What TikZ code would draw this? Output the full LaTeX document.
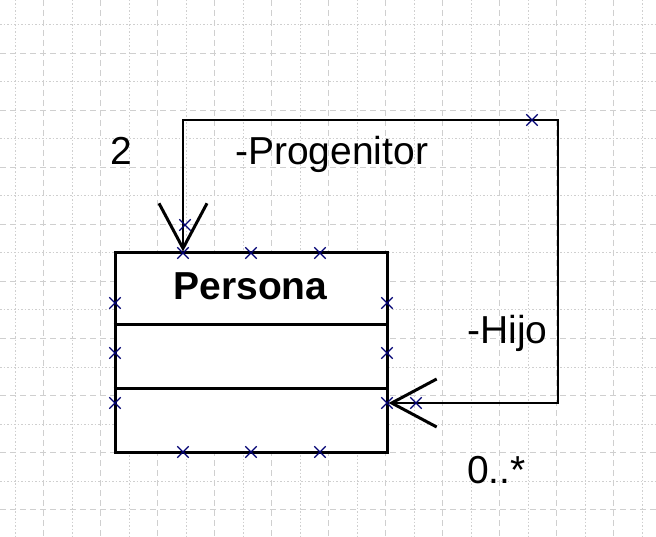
\documentclass[tikz,border=0pt]{standalone}
\usepackage{fontspec}
\setmainfont{Liberation Sans}
\usetikzlibrary{arrows.meta,shapes.misc}
\tikzset{
  clase/.style={draw,line width=3pt,fill=white,minimum width=272pt,minimum height=199pt,inner sep=0pt},
  punta/.tip={Straight Barb[length=45pt,width=48pt,line width=3pt]},
  asoc/.style={line width=2pt,punta-punta},
  marca/.style={cross out,draw=blue!45!black,line width=1.3pt,minimum size=10pt,inner sep=0pt},
  rol/.style={font=\fontsize{39}{39}\selectfont,inner sep=0pt},
  rejilla/.style={gray!38,line width=1pt}
}
\begin{document}
\begin{tikzpicture}[x=1pt,y=-1pt]
\useasboundingbox[fill=white] (0,0) rectangle (656,537);
% rejilla
\foreach \k in {0,2,...,22} \draw[rejilla,dash pattern=on 1.5pt off 2pt] (15+28.5*\k,0) -- (15+28.5*\k,537);
\foreach \k in {1,3,...,21} \draw[rejilla,dash pattern=on 6pt off 4pt] (15+28.5*\k,0) -- (15+28.5*\k,537);
\foreach \k in {0,2,...,18} \draw[rejilla,dash pattern=on 1.5pt off 2pt] (0,25+28.5*\k) -- (656,25+28.5*\k);
\foreach \k in {1,3,...,17} \draw[rejilla,dash pattern=on 6pt off 4pt] (0,25+28.5*\k) -- (656,25+28.5*\k);

% clase
\node[clase] (persona) at (251,352.5) {};
\node[font=\fontsize{39}{39}\selectfont\bfseries,anchor=base] (nombre) at (250.5,300) {Persona};
\draw[line width=3pt] ([yshift=-73pt]persona.north west) -- ([yshift=-73pt]persona.north east);
\draw[line width=3pt] ([yshift=-137pt]persona.north west) -- ([yshift=-137pt]persona.north east);

% asociacion reflexiva
\coordinate (prog) at ([xshift=-68pt]persona.north);
\coordinate (hijo) at ([yshift=-50.5pt]persona.east);
\coordinate (esq) at (558,120);
\draw[asoc] (prog) |- (esq) |- (hijo);

\node[rol,anchor=base west] (mult2) at (110,165) {2};
\node[rol,anchor=base west] (progenitor) at (235,165) {-Progenitor};
\node[rol,anchor=base west] (rolhijo) at (467,344) {-Hijo};
\node[rol,anchor=base west] (multhijo) at (467,483) {0..*};

% marcas de seleccion
\foreach \p in {(183,253),(251,253),(320,253),(183,452),(251,452),(320,452),
  (115,303),(115,353),(115,403),(387,303),(387,353),(387,403),
  (185,225),(532,120),(416,403)}
  \node[marca] at \p {};
\end{tikzpicture}
\end{document}
